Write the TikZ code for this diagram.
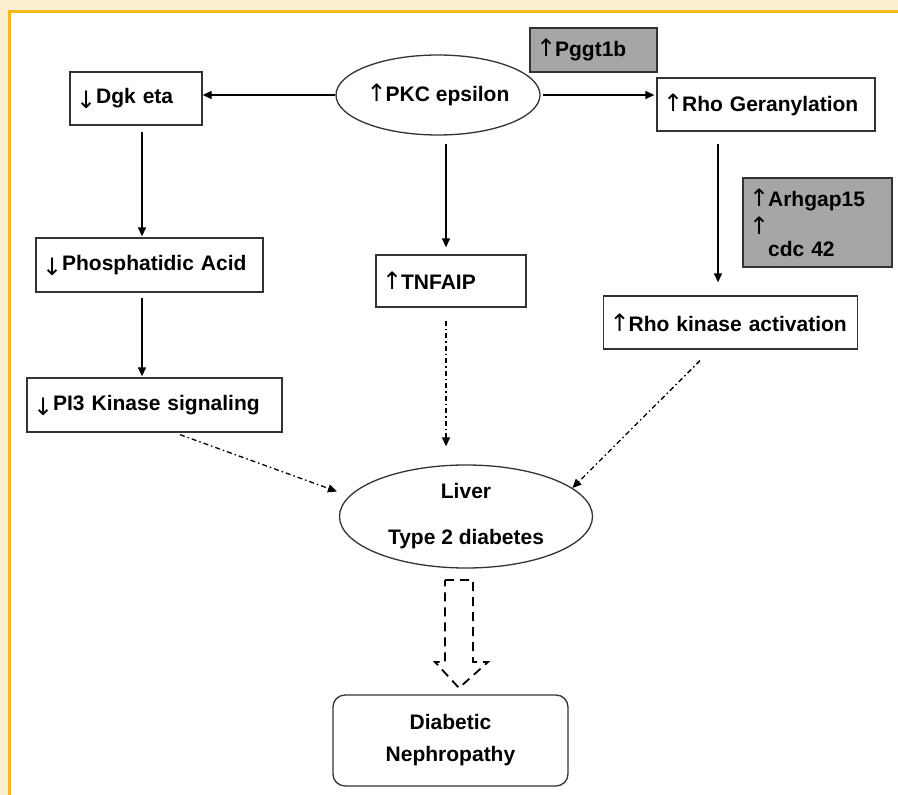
\documentclass[tikz,border=0pt]{standalone}
\usepackage{fontspec}
\setmainfont{Liberation Sans}
\newfontfamily\arrowfont{DejaVu Sans}
\usepackage{tikz}
\usetikzlibrary{positioning, arrows.meta, shapes.geometric}
\definecolor{cream}{HTML}{FCEFD0}
\definecolor{goldline}{HTML}{F4BA1B}
\definecolor{boxgray}{HTML}{A6A6A6}
\newcommand{\upar}{{\arrowfont\mdseries\fontsize{24}{24}\selectfont ↑}\kern-1pt}
\newcommand{\dnar}{\raisebox{-5pt}{\arrowfont\mdseries\fontsize{24}{24}\selectfont ↓}}

\begin{document}
\begin{tikzpicture}[
    x=1pt, y=-1pt,
    font=\bfseries\fontsize{21}{25}\selectfont,
    box/.style={rectangle, draw=black!80, line width=1.3pt, inner xsep=6pt, inner ysep=0pt, align=left, minimum height=53pt},
    graybox/.style={box, fill=boxgray},
    oval/.style={ellipse, draw=black!80, line width=1.3pt, inner sep=0pt, align=center},
    arrow/.style={-{Triangle[length=9pt, width=8pt]}, line width=1.3pt},
    dotarrow/.style={arrow, dash pattern=on 5pt off 3pt on 1.5pt off 3pt}
]
\useasboundingbox (0,0) rectangle (898,795);
% Frame
\fill[cream] (0,0) rectangle (898,795);
\fill[white] (9.5,11) rectangle (898,795);
\draw[goldline, line width=3pt] (9.5,795) -- (9.5,11) -- (898,11);

% Top row
\node[oval, minimum width=204pt, minimum height=80pt] (pkc) at (438,95) {\upar PKC epsilon};
\node[box, text width=120pt] (dgk) at (136,98.5) {\dnar Dgk eta};
\node[box, text width=206pt] (rhog) at (766,104.5) {\upar Rho Geranylation};
\node[graybox, text width=115pt, minimum height=44pt] (pggt) at (593.5,50) {\upar Pggt1b};

% Left branch
\node[box, text width=215pt, minimum height=54pt] (phos) at (149.5,265) {\dnar Phosphatidic Acid};
\node[box, text width=243pt, minimum height=54pt] (pik) at (154.5,405) {\dnar PI3 Kinase signaling};

% Middle and right branch
\node[box, text width=138pt, minimum height=52pt] (tnf) at (451,281) {\upar TNFAIP};
\node[graybox, text width=137pt, minimum height=89pt] (arh) at (817.5,222.5) {\upar Arhgap15\\[25pt]\smash{\raisebox{22pt}{\upar}}cdc 42};
\node[box, text width=242pt] (rhok) at (730.5,322.5) {\upar Rho kinase activation};

% Outcome
\node[oval, minimum width=253pt, minimum height=103pt] (liver) at (466,516.5) {Liver\\[21pt]Type 2 diabetes};
\node[box, rounded corners=12pt, align=center, text width=223pt, minimum height=91pt] (dn) at (450.5,740.5) {Diabetic\\[7pt]Nephropathy};

% Arrows
\draw[arrow] (pkc.west) -- (pkc.west -| dgk.east);
\draw[arrow, shorten <=2pt, shorten >=2pt] (pkc.east) -- (pkc.east -| rhog.west);
\draw[arrow, shorten <=8pt, shorten >=7pt] ([xshift=8pt]pkc.south) -- ([xshift=8pt]pkc.south |- tnf.north);
\draw[arrow, shorten <=6pt, shorten >=1pt] ([xshift=6pt]dgk.south) -- ([xshift=6pt]dgk.south |- phos.north);
\draw[arrow, shorten <=5pt, shorten >=1pt] ([xshift=-7.5pt]phos.south) -- ([xshift=-7.5pt]phos.south |- pik.north);
\draw[arrow, shorten <=12pt, shorten >=13pt] ([xshift=-48pt]rhog.south) -- ([xshift=-48pt]rhog.south |- rhok.north);

% Dash-dot arrows into liver
\draw[dotarrow, shorten <=13pt, shorten >=18pt] ([xshift=-5pt]tnf.south) -- ([xshift=-5pt]tnf.south |- liver.north);
\draw[dotarrow, shorten >=13pt] ([xshift=25.5pt, yshift=-2pt]pik.south) -- (liver.170);
\draw[dotarrow] ([xshift=-30.5pt, yshift=-11pt]rhok.south) -- (liver.15);

% Hollow dashed arrow
\draw[line width=1.8pt, dash pattern=on 9pt off 6pt] (445,580) -- (473,580) -- (473,662) -- (488,662) -- (459,688) -- (435,662) -- (445,662) -- cycle;

\end{tikzpicture}
\end{document}
